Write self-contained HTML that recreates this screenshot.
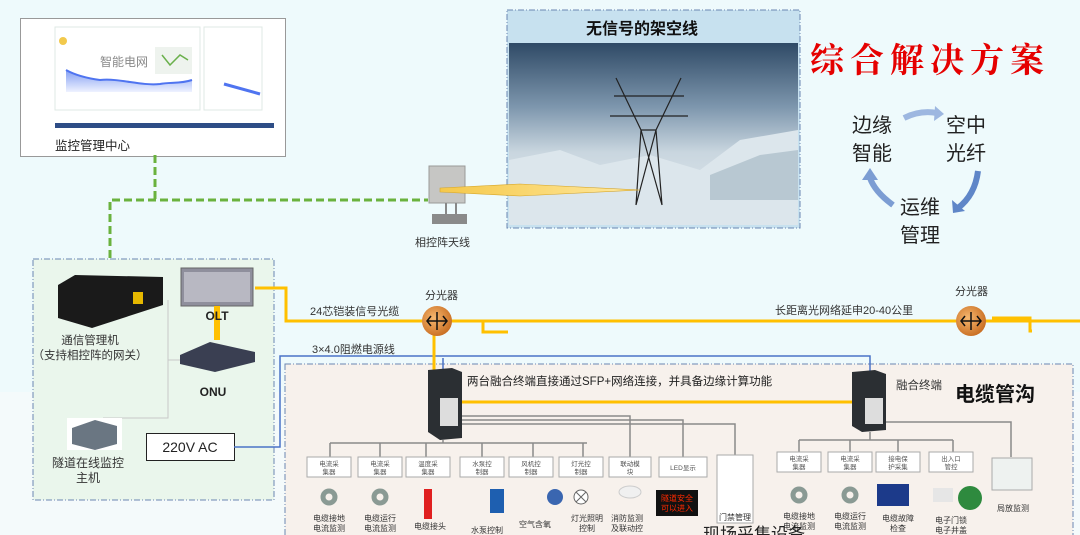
<!DOCTYPE html>
<html><head><meta charset="utf-8"><style>
html,body{margin:0;padding:0;width:1080px;height:535px;overflow:hidden;background:#eefafc;font-family:"Liberation Sans","Noto Sans CJK SC",sans-serif;}
svg{position:absolute;left:0;top:0}
text{font-family:"Liberation Sans","Noto Sans CJK SC",sans-serif;}
</style></head><body>
<svg width="1080" height="535" viewBox="0 0 1080 535">
<defs>
<linearGradient id="sky" x1="0" y1="0" x2="0" y2="1">
<stop offset="0" stop-color="#2f4a66"/><stop offset="0.35" stop-color="#7d96ad"/><stop offset="0.6" stop-color="#c9d6df"/><stop offset="1" stop-color="#e4ebf0"/></linearGradient>
<linearGradient id="chart" x1="0" y1="0" x2="0" y2="1"><stop offset="0" stop-color="#6f8ff0"/><stop offset="1" stop-color="#eef2ff"/></linearGradient>
<radialGradient id="spl" cx="0.4" cy="0.4" r="0.7"><stop offset="0" stop-color="#f6b870"/><stop offset="1" stop-color="#c4661a"/></radialGradient>
<linearGradient id="beam" x1="0" y1="0" x2="1" y2="0"><stop offset="0" stop-color="#f5c84a"/><stop offset="1" stop-color="#ffe9a0"/></linearGradient>
</defs>
<!-- lower band -->
<rect x="0" y="392" width="1080" height="143" fill="#f4fafb"/>
<!-- monitoring center -->
<rect x="20.5" y="18.5" width="265" height="138" fill="#fff" stroke="#999"/>
<rect x="55" y="27" width="145" height="83" fill="#fff" stroke="#dfe9e4"/>
<circle cx="63" cy="41" r="4" fill="#f2c94c"/>
<path d="M66 66 L66 92 L192 92 L192 80 C180 84 170 82 160 84 C140 86 120 78 100 80 C85 78 75 75 66 70Z" fill="url(#chart)"/>
<path d="M66 70 C75 75 85 78 100 80 C120 78 140 86 160 84 C170 82 180 84 192 80" fill="none" stroke="#4f74f0" stroke-width="2"/>
<text x="100" y="66" font-size="12" fill="#888">智能电网</text>
<rect x="155" y="47" width="37" height="27" fill="#eef3ee"/>
<path d="M162 55 L170 65 L180 55 L188 60" stroke="#6ab04c" stroke-width="1.5" fill="none"/>
<rect x="204" y="27" width="58" height="83" fill="#fff" stroke="#dfe9e4"/>
<path d="M224 84 L260 94" stroke="#4f74f0" stroke-width="3"/>
<rect x="55" y="123" width="219" height="5" fill="#2e4d86"/>
<text x="55" y="150" font-size="12.5" fill="#222">监控管理中心</text>
<!-- green dashed -->
<path d="M155 155 V200 M110 258 V200 H428" stroke="#6ab23e" stroke-width="3" stroke-dasharray="8 4" fill="none"/>
<!-- antenna -->
<rect x="429" y="166" width="36" height="37" fill="#c6c6c4" stroke="#999"/>
<rect x="432" y="214" width="35" height="10" fill="#8a8a8a"/>
<rect x="445" y="203" width="2" height="11" fill="#888"/><rect x="455" y="203" width="2" height="11" fill="#888"/>
<text x="415" y="246" font-size="11" fill="#333">相控阵天线</text>
<!-- photo -->
<rect x="507" y="10" width="293" height="218" fill="#c7e1ef" stroke="#6b86b2" stroke-dasharray="6 2 1 2"/>
<rect x="509" y="43" width="289" height="182" fill="url(#sky)"/>
<path d="M509 160 L560 150 L600 165 L650 155 L700 170 L740 140 L798 130 L798 225 L509 225Z" fill="#dce6ec"/>
<path d="M710 175 L760 155 L798 150 L798 200 L710 200Z" fill="#b8c8d2"/>
<text x="586" y="34" font-size="16" font-weight="bold" fill="#111">无信号的架空线</text>
<g stroke="#222" stroke-width="1.2" fill="none">
<path d="M616 78 L641 130 L636 205 M681 78 L656 130 L662 205 M641 130 L656 130 M614 96 L684 96 M610 116 L688 116 M641 130 L662 205 M656 130 L636 205"/>
</g>
<path d="M440 188 L520 184 L640 190 L520 196 L440 192Z" fill="url(#beam)" stroke="#d4a52b" stroke-width="0.6"/>
<!-- title -->
<text x="810" y="72" font-size="34" font-weight="bold" fill="#e50000" letter-spacing="6" style="font-family:'Noto Serif CJK SC',serif">综合解决方案</text>
<!-- cycle -->
<text x="852" y="132" font-size="20" fill="#222">边缘</text><text x="852" y="160" font-size="20" fill="#222">智能</text>
<text x="946" y="132" font-size="20" fill="#222">空中</text><text x="946" y="160" font-size="20" fill="#222">光纤</text>
<text x="900" y="214" font-size="20" fill="#222">运维</text><text x="900" y="242" font-size="20" fill="#222">管理</text>
<path d="M904 118 Q920 110 937 113" stroke="#9db7e0" stroke-width="6" fill="none"/><path d="M935 106 L944 114 L934 121Z" fill="#9db7e0"/>
<path d="M978 171 Q975 195 958 208" stroke="#5f86c8" stroke-width="6" fill="none"/><path d="M952 200 L953 213 L965 211Z" fill="#5f86c8"/>
<path d="M893 205 Q875 192 870 178" stroke="#7c9dd3" stroke-width="6" fill="none"/><path d="M862 180 L870 168 L878 180Z" fill="#7c9dd3"/>
<!-- left box -->
<rect x="33" y="259" width="241" height="241" fill="#eaf6ec" stroke="#6b86b2" stroke-dasharray="6 2 1 2"/>
<path d="M168 300 V418 H103 M168 360 H180" stroke="#c8c8c8" stroke-width="1" fill="none"/>
<path d="M58 285 L75 275 L163 277 L163 305 L92 328 L58 318Z" fill="#1a1a1a"/>
<rect x="133" y="292" width="10" height="12" fill="#e6b800"/>
<text x="90" y="344" font-size="11.5" fill="#333" text-anchor="middle">通信管理机</text>
<text x="90" y="359" font-size="11.5" fill="#333" text-anchor="middle">（支持相控阵的网关）</text>
<rect x="181" y="268" width="72" height="38" fill="#8f8f9c" stroke="#666"/>
<rect x="184" y="272" width="66" height="30" fill="#b8b8c2"/>
<rect x="214" y="306" width="6" height="34" fill="#ffc000"/>
<text x="217" y="320" font-size="12" font-weight="bold" fill="#222" text-anchor="middle">OLT</text>
<path d="M180 355 L210 342 L255 352 L255 362 L215 372 L180 364Z" fill="#3a3f52"/>
<text x="213" y="396" font-size="12" font-weight="bold" fill="#222" text-anchor="middle">ONU</text>
<rect x="67" y="418" width="55" height="32" fill="#fff"/>
<path d="M72 428 L95 420 L117 426 L117 444 L95 450 L72 444Z" fill="#6a7682"/>
<text x="88" y="467" font-size="12" fill="#333" text-anchor="middle">隧道在线监控</text>
<text x="88" y="482" font-size="12" fill="#333" text-anchor="middle">主机</text>
<rect x="146.5" y="433.5" width="88" height="27" fill="#fff" stroke="#222"/>
<text x="190" y="452" font-size="14" fill="#222" text-anchor="middle">220V  AC</text>
<!-- trench box -->
<rect x="285" y="364" width="788" height="172" fill="#f7f1ec" stroke="#6b86b2" stroke-dasharray="6 2 1 2"/>
<!-- blue power -->
<path d="M234 447 H280 V356 H870 V372 M443 358 V370" stroke="#4a73c7" stroke-width="1.5" fill="none"/>
<!-- yellow fiber -->
<g stroke="#ffc000" stroke-width="3" fill="none">
<path d="M255 288 H286 V321 H425 M449 321 H958 M983 321 H1080 M483 321 V332 H508 M434 335 V370 M462 402 H852 M992 318 H1030 V331 H1032"/>
</g>
<circle cx="437" cy="321" r="15" fill="url(#spl)"/>
<path d="M427 321 H447 M437 312 V330 M443 316 L447 321 L443 326 M431 316 L427 321 L431 326" stroke="#111" stroke-width="1.5" fill="none"/>
<circle cx="971" cy="321" r="15" fill="url(#spl)"/>
<path d="M961 321 H981 M971 312 V330 M977 316 L981 321 L977 326 M965 316 L961 321 L965 326" stroke="#111" stroke-width="1.5" fill="none"/>
<text x="310" y="315" font-size="11" fill="#333">24芯铠装信号光缆</text>
<text x="425" y="299" font-size="11" fill="#333">分光器</text>
<text x="955" y="295" font-size="11" fill="#333">分光器</text>
<text x="312" y="353" font-size="11" fill="#333">3×4.0阻燃电源线</text>
<text x="775" y="314" font-size="11" fill="#333">长距离光网络延申20-40公里</text>
<!-- switches -->
<path d="M428 370 L452 368 L462 372 L462 438 L440 440 L428 432Z" fill="#2b2f33"/>
<rect x="440" y="398" width="18" height="28" fill="#ddd"/>
<path d="M852 372 L875 370 L886 374 L886 430 L862 432 L852 426Z" fill="#2b2f33"/>
<rect x="865" y="398" width="18" height="26" fill="#ddd"/>
<text x="467" y="385" font-size="11.5" fill="#222">两台融合终端直接通过SFP+网络连接，并具备边缘计算功能</text>
<text x="896" y="389" font-size="11.5" fill="#333">融合终端</text>
<text x="955" y="401" font-size="20" font-weight="bold" fill="#111">电缆管沟</text>
<!-- left tree -->
<g stroke="#8a8a8a" stroke-width="1.5" fill="none">
<path d="M443 440 V443 M330 443 H587 M330 443 V457 M380 443 V457 M426 443 V457 M482 443 V457 M533 443 V457 M583 443 V457"/>
<path d="M462 416 H630 V457 M462 420 H683 V457 M462 424 H735 V455"/>
<path d="M886 422 H1011 V457 M870 432 V440 M799 440 H953 M799 440 V455 M850 440 V455 M898 440 V455 M953 440 V455"/>
</g>
<g fill="#fff" stroke="#aaa">
<rect x="307" y="457" width="44" height="20"/><rect x="358" y="457" width="44" height="20"/><rect x="406" y="457" width="44" height="20"/>
<rect x="460" y="457" width="44" height="20"/><rect x="509" y="457" width="44" height="20"/><rect x="559" y="457" width="44" height="20"/>
<rect x="609" y="457" width="42" height="20"/><rect x="659" y="457" width="48" height="20"/>
<rect x="777" y="452" width="44" height="20"/><rect x="828" y="452" width="44" height="20"/><rect x="876" y="452" width="44" height="20"/><rect x="929" y="452" width="44" height="20"/>
<rect x="717" y="455" width="36" height="68"/>
<rect x="992" y="458" width="40" height="32" fill="#eef2f0"/>
</g>
<g font-size="6.5" fill="#555" text-anchor="middle">
<text x="329" y="466">电流采</text><text x="329" y="474">集器</text>
<text x="380" y="466">电流采</text><text x="380" y="474">集器</text>
<text x="428" y="466">温度采</text><text x="428" y="474">集器</text>
<text x="482" y="466">水泵控</text><text x="482" y="474">制器</text>
<text x="531" y="466">风机控</text><text x="531" y="474">制器</text>
<text x="581" y="466">灯光控</text><text x="581" y="474">制器</text>
<text x="630" y="466">联动模</text><text x="630" y="474">块</text>
<text x="683" y="470">LED显示</text>
<text x="799" y="461">电流采</text><text x="799" y="469">集器</text>
<text x="850" y="461">电流采</text><text x="850" y="469">集器</text>
<text x="898" y="461">接电保</text><text x="898" y="469">护采集</text>
<text x="951" y="461">出入口</text><text x="951" y="469">管控</text>
</g>
<!-- sensors -->
<g fill="none" stroke="#8a9a94" stroke-width="5">
<circle cx="329" cy="497" r="6"/><circle cx="380" cy="497" r="6"/><circle cx="799" cy="495" r="6"/><circle cx="850" cy="495" r="6"/>
</g>
<rect x="424" y="489" width="8" height="30" fill="#e02020"/>
<rect x="490" y="489" width="14" height="24" fill="#1e5fb0"/>
<circle cx="555" cy="497" r="8" fill="#3a66b0"/>
<circle cx="581" cy="497" r="7" fill="#fff" stroke="#666"/>
<path d="M576 492 L586 502 M586 492 L576 502" stroke="#666"/>
<ellipse cx="630" cy="492" rx="11" ry="6" fill="#f0f0f0" stroke="#ccc"/>
<rect x="656" y="490" width="42" height="26" fill="#111"/>
<text x="677" y="501" font-size="8" fill="#ff2a00" text-anchor="middle">隧道安全</text>
<text x="677" y="511" font-size="8" fill="#ff2a00" text-anchor="middle">可以进入</text>
<rect x="877" y="484" width="32" height="22" fill="#1c3a8a"/>
<circle cx="970" cy="498" r="12" fill="#2e8a3e"/>
<rect x="933" y="488" width="20" height="14" fill="#e6e6e6"/>
<g font-size="8" fill="#333" text-anchor="middle">
<text x="329" y="521">电缆接地</text><text x="329" y="531">电流监测</text>
<text x="380" y="521">电缆运行</text><text x="380" y="531">电流监测</text>
<text x="430" y="529">电缆接头</text>
<text x="487" y="533">水泵控制</text>
<text x="535" y="527">空气含氧</text>
<text x="587" y="521">灯光照明</text><text x="587" y="531">控制</text>
<text x="627" y="521">消防监测</text><text x="627" y="531">及联动控</text>
<text x="735" y="520">门禁管理</text>
<text x="799" y="519">电缆接地</text><text x="799" y="529">电流监测</text>
<text x="850" y="519">电缆运行</text><text x="850" y="529">电流监测</text>
<text x="898" y="521">电缆故障</text><text x="898" y="531">检查</text>
<text x="951" y="523">电子门锁</text><text x="951" y="533">电子井盖</text>
<text x="1013" y="511">局放监测</text>
</g>
<text x="703" y="540" font-size="17" fill="#222">现场采集设备</text>
</svg>
</body></html>
